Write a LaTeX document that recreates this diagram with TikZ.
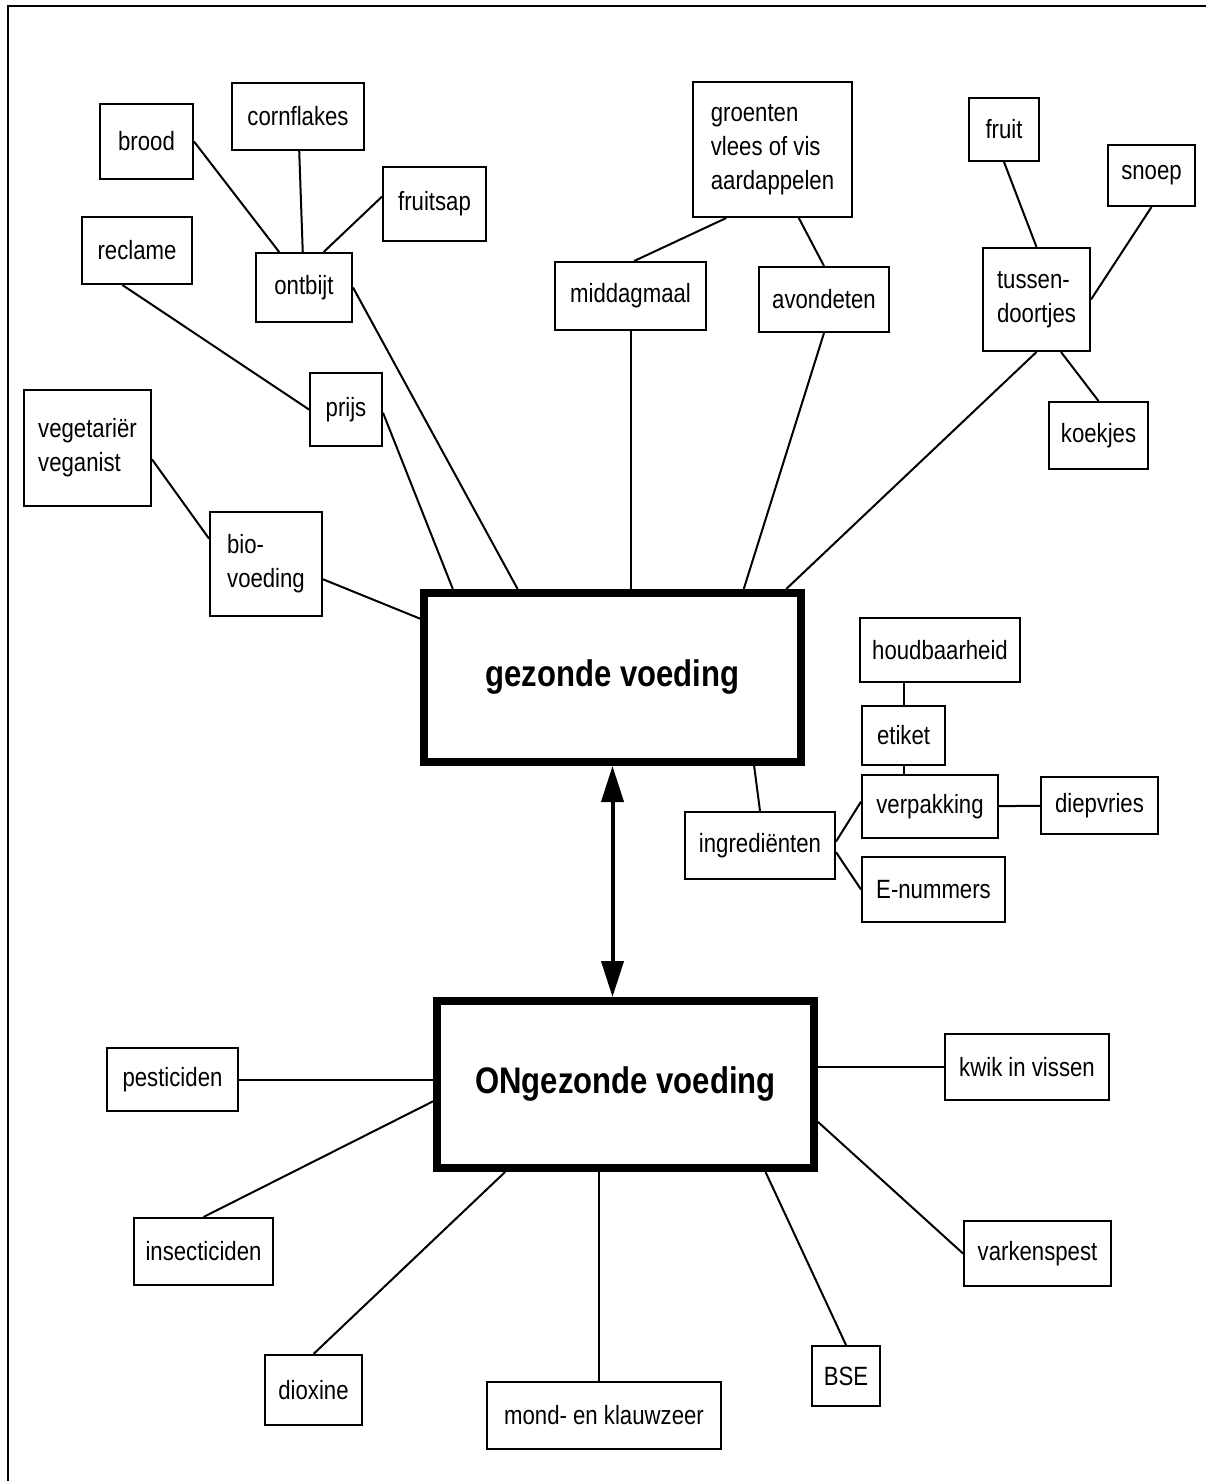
\documentclass[tikz,border=0pt]{standalone}
\usepackage{fontspec}
\setmainfont[FakeStretch=0.84]{Liberation Sans}
\usepackage{tikz}
\usetikzlibrary{calc,arrows.meta,positioning}

\tikzset{
    wh/.style 2 args={minimum width=#1*0.5pt,minimum height=#2*0.5pt},
    box/.style={draw,line width=1pt,inner sep=0pt,align=left,font=\fontsize{13.2}{17}\selectfont},
    bigbox/.style={draw,line width=4pt,inner sep=0pt,font=\fontsize{18.5}{22}\selectfont\bfseries},
    link/.style={line width=1pt},
    arr/.style={line width=2pt,{Triangle[length=18pt,width=11pt]}-{Triangle[length=18pt,width=11pt]}}
}

\begin{document}
\begin{tikzpicture}[x=0.5pt,y=-0.5pt]
    \useasboundingbox (0,0) rectangle (1206,1481);
    \draw[line width=1pt] (8,1481)--(8,6)--(1206,6);

    % gezonde voeding
    \node (gezonde) at (612.5,677.5) [bigbox,wh={377}{169}] {gezonde voeding};
    \node (brood) at (146.5,141.5) [box,wh={93}{75}] {brood};
    \node (cornflakes) at (298,116.5) [box,wh={132}{67}] {cornflakes};
    \node (fruitsap) at (434.5,204) [box,wh={103}{74}] {fruitsap};
    \node (reclame) at (137,250.5) [box,wh={110}{67}] {reclame};
    \node (ontbijt) at (304,287.5) [box,wh={96}{69}] {ontbijt};
    \node (prijs) at (346,409.5) [box,wh={72}{73}] {prijs};
    \node (vegetarier) at (87.5,448) [box,wh={127}{116}] {vegetariër\\veganist};
    \node (bio) at (266,564) [box,wh={112}{104}] {bio-\\voeding};
    \node (groenten) at (772.5,149.5) [box,wh={159}{135}] {groenten\\vlees of vis\\aardappelen};
    \node (middagmaal) at (630.5,296) [box,wh={151}{68}] {middagmaal};
    \node (avondeten) at (824,299.5) [box,wh={130}{65}] {avondeten};
    \node (fruit) at (1004,129.5) [box,wh={70}{63}] {fruit};
    \node (snoep) at (1151.5,175.5) [box,wh={87}{61}] {snoep};
    \node (tussen) at (1036.5,299.5) [box,wh={107}{103}] {tussen-\\doortjes};
    \node (koekjes) at (1098.5,435.5) [box,wh={99}{67}] {koekjes};

    \node (houdbaarheid) at (940,650) [box,wh={160}{64}] {houdbaarheid};
    \node (etiket) at (903.5,735.5) [box,wh={83}{59}] {etiket};
    \node (verpakking) at (930,806.5) [box,wh={136}{63}] {verpakking};
    \node (diepvries) at (1099.5,805.5) [box,wh={117}{57}] {diepvries};
    \node (ingredienten) at (760,845.5) [box,wh={150}{67}] {ingrediënten};
    \node (enummers) at (933.5,889.5) [box,wh={143}{65}] {E-nummers};

    \draw[link] (brood.east)--(ontbijt.125);
    \draw[link] (cornflakes)--(ontbijt);
    \draw[link] (fruitsap.172)--(ontbijt.61);
    \draw[link] (reclame.-113)--(prijs.west);
    \draw[link] (ontbijt.east)--(gezonde.137);
    \draw[link] (prijs.-5)--(gezonde.151);
    \draw[link] (vegetarier.-10)--(bio.156);
    \draw[link] (bio.-15)--(gezonde.163);
    \draw[link] (groenten.-124)--(middagmaal.84);
    \draw[link] (groenten.-69)--(avondeten.north);
    \draw[link] (middagmaal.south)--(middagmaal.south |- gezonde.north);
    \draw[link] (avondeten.south)--(gezonde.34);
    \draw[link] (fruit.south)--(tussen.north);
    \draw[link] (snoep.south)--(tussen.east);
    \draw[link] (tussen.-65)--(koekjes.north);
    \draw[link] (tussen.south)--(gezonde.27);

    \draw[link] (gezonde.-32)--(ingredienten.north);
    \draw[link] (ingredienten.3)--(verpakking.176);
    \draw[link] (ingredienten.-5)--(enummers.west);
    \draw[link] (etiket.north)--(etiket.north |- houdbaarheid.south);
    \draw[link] (etiket.south)--(etiket.south |- verpakking.north);
    \draw[link] (verpakking)--(diepvries);

    % ONgezonde voeding
    \node (ongezonde) at (625.5,1084.5) [bigbox,wh={377}{167}] {ONgezonde voeding};
    \node (pesticiden) at (172.5,1079.5) [box,wh={131}{63}] {pesticiden};
    \node (kwik) at (1027,1067) [box,wh={164}{66}] {kwik in vissen};
    \node (insecticiden) at (203.5,1251.5) [box,wh={139}{67}] {insecticiden};
    \node (varkenspest) at (1037.5,1253.5) [box,wh={147}{65}] {varkenspest};
    \node (dioxine) at (313.5,1390) [box,wh={97}{70}] {dioxine};
    \node (mond) at (604,1415.5) [box,wh={234}{67}] {mond- en klauwzeer};
    \node (bse) at (846,1376) [box,wh={68}{60}] {BSE};

    \draw[arr] (gezonde.south)--(gezonde.south |- ongezonde.north);

    \draw[link] (pesticiden.east)--(pesticiden.east -| ongezonde.west);
    \draw[link] (ongezonde.-175)--(insecticiden.north);
    \draw[link] (ongezonde.-144)--(dioxine.north);
    \draw[link] (ongezonde.-107)--(ongezonde.-107 |- mond.north);
    \draw[link] (ongezonde.-32)--(bse.north);
    \draw[link] (ongezonde.-11)--(varkenspest.west);
    \draw[link] (kwik.west)--(kwik.west -| ongezonde.east);

\end{tikzpicture}
\end{document}
